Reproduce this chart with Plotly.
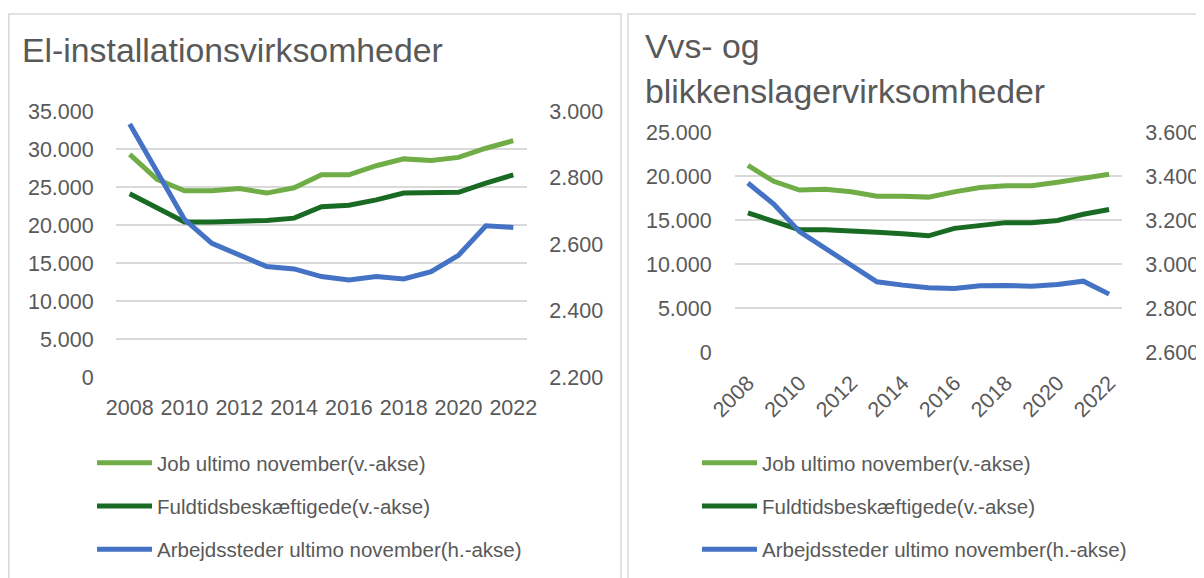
import plotly.graph_objects as go

# ---------------- data ----------------
years = list(range(2008, 2023))
tick_years = years[::2]

series_names = [
    "Job ultimo november(v.-akse)",
    "Fuldtidsbeskæftigede(v.-akse)",
    "Arbejdssteder ultimo november(h.-akse)",
]

# El-installationsvirksomheder
el_job = [29300, 26000, 24500, 24500, 24800, 24200, 24900, 26600, 26600, 27800, 28700, 28500, 28900, 30100, 31100]
el_fuld = [24100, 22300, 20400, 20400, 20500, 20600, 20900, 22400, 22600, 23300, 24200, 24300, 24300, 25500, 26600]
el_arb = [2961, 2817, 2674, 2602, 2567, 2532, 2525, 2502, 2492, 2502, 2495, 2517, 2566, 2655, 2650]

# Vvs- og blikkenslagervirksomheder
vvs_job = [21200, 19400, 18400, 18500, 18200, 17700, 17700, 17600, 18200, 18700, 18900, 18900, 19300, 19800, 20200]
vvs_fuld = [15800, 14900, 13900, 13900, 13800, 13600, 13450, 13200, 14050, 14400, 14700, 14700, 14950, 15650, 16200]
vvs_arb = [3368, 3272, 3147, 3071, 2992, 2919, 2904, 2892, 2889, 2901, 2902, 2899, 2907, 2922, 2863]

titles = ["El-installationsvirksomheder", "Vvs- og", "blikkenslagervirksomheder"]

# ---------------- style ----------------
W, H = 1204, 578
OFF = 8  # page body margin
C_JOB = "#70AD47"
C_FULD = "#196B24"
C_ARB = "#4472C4"
TXT = "#595959"
GRID = "#D9D9D9"
FONT = "Liberation Sans, Arial, sans-serif"
colors = [C_JOB, C_FULD, C_ARB]


def px(x):
    return (x - OFF) / W


def py(y):
    return 1 - (y - OFF) / H


fig = go.Figure()

left_sets = [(el_job, "y"), (el_fuld, "y"), (el_arb, "y2")]
right_sets = [(vvs_job, "y3"), (vvs_fuld, "y3"), (vvs_arb, "y4")]

for i, (vals, ya) in enumerate(left_sets):
    fig.add_trace(go.Scatter(
        x=years, y=vals, name=series_names[i], mode="lines",
        line=dict(color=colors[i], width=5), xaxis="x", yaxis=ya,
        legend="legend", legendgroup="L%d" % i,
    ))
for i, (vals, ya) in enumerate(right_sets):
    fig.add_trace(go.Scatter(
        x=years, y=vals, name=series_names[i], mode="lines",
        line=dict(color=colors[i], width=5), xaxis="x2", yaxis=ya,
        legend="legend2", legendgroup="R%d" % i,
    ))

tickfont = dict(family=FONT, size=21.5, color=TXT)
legfont = dict(family=FONT, size=20.5, color=TXT)
titlefont = dict(family=FONT, size=33.8, color=TXT)

common_x = dict(
    range=[years[0] - 0.5, years[-1] + 0.5], tickmode="array",
    tickvals=tick_years, ticktext=[str(t) for t in tick_years],
    showgrid=False, zeroline=False, showline=False,
    ticks="outside", tickcolor="rgba(0,0,0,0)", tickfont=tickfont,
)

common_y = dict(tickformat=",d", zeroline=False, showline=False,
                ticks="outside", tickcolor="rgba(0,0,0,0)",
                tickfont=tickfont)

fig.update_layout(
    width=W, height=H,
    margin=dict(l=0, r=0, t=0, b=0, pad=0, autoexpand=False),
    paper_bgcolor="white", plot_bgcolor="white",
    separators=",.",
    showlegend=True,
    xaxis=dict(common_x, domain=[px(116), px(527)], anchor="y", ticklen=11, tickangle=0),
    yaxis=dict(common_y, domain=[py(377), py(111)], range=[0, 35000], dtick=5000, ticklen=17,
               showgrid=True, gridcolor=GRID, gridwidth=1.5, anchor="x"),
    yaxis2=dict(common_y, overlaying="y", side="right", range=[2200, 3000], dtick=200,
                ticklen=17, showgrid=False, anchor="x"),
    xaxis2=dict(common_x, domain=[px(735), px(1122)], anchor="y3", ticklen=9, tickangle=-45),
    yaxis3=dict(common_y, domain=[py(352), py(132)], range=[0, 25000], dtick=5000, ticklen=18,
                showgrid=True, gridcolor=GRID, gridwidth=1.5, anchor="x2"),
    yaxis4=dict(common_y, overlaying="y3", side="right", range=[2600, 3600], dtick=200,
                ticklen=18, showgrid=False, anchor="x2"),
    legend=dict(x=px(92), xanchor="left", y=py(443), yanchor="top",
                font=legfont, tracegroupgap=13.5, traceorder="grouped", itemwidth=55,
                bgcolor="rgba(0,0,0,0)", borderwidth=0),
    legend2=dict(x=px(697), xanchor="left", y=py(443), yanchor="top",
                 font=legfont, tracegroupgap=13.5, traceorder="grouped", itemwidth=55,
                 bgcolor="rgba(0,0,0,0)", borderwidth=0),
    shapes=[
        dict(type="rect", xref="paper", yref="paper", x0=px(8.8), x1=px(621),
             y0=-0.2, y1=py(14), line=dict(color=GRID, width=1.5), layer="below"),
        dict(type="rect", xref="paper", yref="paper", x0=px(628), x1=1.2,
             y0=-0.2, y1=py(14), line=dict(color=GRID, width=1.5), layer="below"),
    ],
    annotations=[
        dict(text=titles[0], xref="paper", yref="paper", x=px(20), y=py(50),
             xanchor="left", yanchor="middle", showarrow=False, font=titlefont),
        dict(text=titles[1], xref="paper", yref="paper", x=px(643), y=py(46),
             xanchor="left", yanchor="middle", showarrow=False, font=titlefont),
        dict(text=titles[2], xref="paper", yref="paper", x=px(643), y=py(91),
             xanchor="left", yanchor="middle", showarrow=False, font=titlefont),
    ],
)

fig.write_html("out.html")
